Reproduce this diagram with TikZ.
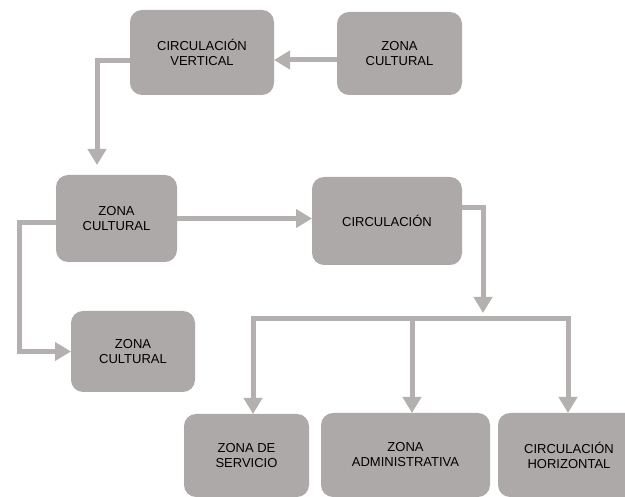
\documentclass[tikz,border=0pt]{standalone}
\usepackage{fontspec}
\setmainfont{Liberation Sans}
\usetikzlibrary{arrows.meta}
\definecolor{boxgray}{RGB}{173,169,168}
\definecolor{linegray}{RGB}{179,176,175}
\tikzset{
  zbox/.style={rectangle, rounded corners=12pt, fill=boxgray, draw=none,
    inner sep=0pt, outer sep=0pt, align=center, text=black,
    font=\fontsize{13}{15}\selectfont},
  wire/.style={draw=linegray, line width=5pt, line join=miter},
  arr/.style={wire, -{Triangle[length=16pt,width=18pt]}},
  darr/.style={wire, {Triangle[length=16pt,width=18pt]}-{Triangle[length=16pt,width=18pt]}}
}
\begin{document}
\begin{tikzpicture}[x=1pt,y=-1pt]
\useasboundingbox (0,0) rectangle (625,497);
\node[zbox, minimum width=144pt, minimum height=85pt] (cv) at (202,52.5) {CIRCULACIÓN\\VERTICAL};
\node[zbox, minimum width=125pt, minimum height=83pt] (zct) at (399.5,53.5) {ZONA\\CULTURAL};
\node[zbox, minimum width=121pt, minimum height=87pt] (zcm) at (116.5,218.5) {ZONA\\CULTURAL};
\node[zbox, minimum width=150pt, minimum height=88pt] (circ) at (387,221) {CIRCULACIÓN};
\node[zbox, minimum width=124pt, minimum height=81pt] (zcl) at (133,351.5) {ZONA\\CULTURAL};
\node[zbox, minimum width=125pt, minimum height=83pt] (zs) at (246.5,455.5) {ZONA DE\\SERVICIO};
\node[zbox, minimum width=169pt, minimum height=84pt] (za) at (405.5,455) {ZONA\\ADMINISTRATIVA};
\node[zbox, minimum width=142pt, minimum height=84pt] (ch) at (569,455) {CIRCULACIÓN\\HORIZONTAL};

\coordinate (split) at (483,313);
\coordinate (b1) at (253,319);
\coordinate (b2) at (412,319);
\coordinate (b3) at (568,319);
\coordinate (cvdown) at (97,165);

\draw[arr] ([yshift=-6.5pt]zct.west) -- ([yshift=-6.5pt]zct.west -| cv.east);
\draw[arr] ([yshift=-8.5pt]cv.west) -| (cvdown);
\draw[arr] (zcm.east) -- (zcm.east -| circ.west);
\draw[arr] ([yshift=-4.5pt]zcm.west) -- ++(-37pt,0) |- (zcl.west);
\draw[arr] ([yshift=13pt]circ.east) -| (split);
\draw[darr] (b1 |- zs.north) -- (b1) -- (b3) -- (b3 |- ch.north);
\draw[arr] (b2) -- (b2 |- za.north);
\end{tikzpicture}
\end{document}
